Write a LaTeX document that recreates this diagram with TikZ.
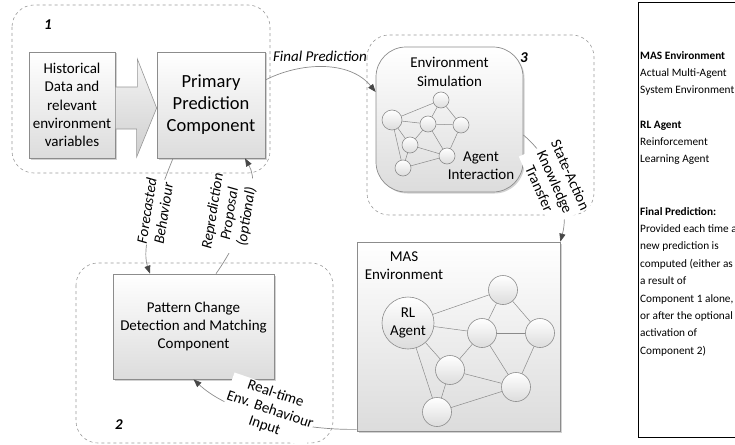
\documentclass[tikz,border=0pt]{standalone}
\usepackage{fontspec}
\setmainfont{Carlito}
\usetikzlibrary{arrows.meta, calc, shadows}
\definecolor{cLine}{HTML}{8C8C8C}
\definecolor{cTip}{HTML}{474747}
\definecolor{cFill}{HTML}{DCDCDC}
\definecolor{cFrame}{HTML}{9A9A9A}
\definecolor{cTie}{HTML}{8A8A8A}
\tikzset{
    x=1pt, y=-1pt, font=\fontsize{15}{18.3}\selectfont,
    grp/.style={draw=cFrame, dashed, line width=0.6pt, rounded corners=22pt},
    grplbl/.style={font=\bfseries\itshape\fontsize{15}{18}\selectfont, inner sep=0pt},
    blk/.style={draw=cLine, line width=0.7pt, top color=white, bottom color=cFill,
                drop shadow={shadow xshift=1.5pt, shadow yshift=-1.5pt,
                             fill=black!35, opacity=.5},
                align=center, inner sep=0pt},
    agent/.style={circle, draw=cLine, line width=0.6pt, top color=white,
                  bottom color=cFill, inner sep=0pt},
    tie/.style={draw=cTie, line width=0.5pt},
    lnk/.style={draw=cLine, line width=0.7pt,
                -{Triangle[length=8pt, width=6pt, color=cTip]}},
    lbl/.style={fill=white, inner sep=0.5pt, align=center,
                font=\fontsize{15}{17}\selectfont},
    leg/.style={font=\fontsize{11.3}{17.4}\selectfont, align=left,
                inner sep=0pt, anchor=base west},
}

\begin{document}
\begin{tikzpicture}
    \useasboundingbox (0,0) rectangle (735,444);
    \clip (0,0) rectangle (735,444);

    % the three components
    \draw[grp] (12,5) rectangle (270,173);
    \node[grplbl] (g1) at (48,25) {1};
    \draw[grp] (76,263) rectangle (333,443);
    \node[grplbl] (g2) at (119,425) {2};
    \draw[grp] (367,35) rectangle (594,215);
    \node[grplbl] (g3) at (524,58) {3};

    \node[blk, minimum width=86pt, minimum height=106pt] (hist) at (72,105)
        {Historical\\Data and\\relevant\\environment\\variables};
    \node[blk, minimum width=108pt, minimum height=106pt,
          font=\fontsize{18.5}{22}\selectfont] (prim) at (211,105)
        {Primary\\Prediction\\Component};
    \node[blk, minimum width=161pt, minimum height=105pt] (patt) at (193.5,326.5)
        {Pattern Change\\Detection and Matching\\Component};

    \draw[draw=cLine!90, line width=0.6pt, top color=gray!8, bottom color=gray!38]
        ($(hist.east)+(0,-18)$) -- ++(22,0) -- ++(0,-28) -- ($(prim.west)+(0,3)$)
        -- ++(-20,49) -- ++(0,-28) -- ($(hist.east)+(0,24)$) -- cycle;

    % simulated environment
    \node[blk, rounded corners=30pt, minimum width=147pt, minimum height=145pt]
        (envsim) at (449.5,119.5) {};
    \node[align=center] (simlbl) at (449.5,72) {Environment\\Simulation};
    \node[align=center] (actlbl) at (481,166) {Agent\\Interaction};
    \node[agent, minimum size=16pt] (s1) at (441,100) {};
    \node[agent, minimum size=20pt] (s2) at (392,120) {};
    \node[agent, minimum size=16pt] (s3) at (428,124) {};
    \node[agent, minimum size=16pt] (s4) at (461,125) {};
    \node[agent, minimum size=16pt] (s5) at (410,145) {};
    \node[agent, minimum size=16pt] (s6) at (447,156) {};
    \node[agent, minimum size=16pt] (s7) at (403,168) {};
    \foreach \a/\b in {s2/s1, s1/s3, s1/s4, s2/s3, s3/s4, s3/s5, s3/s6,
                       s2/s5, s2/s7, s5/s6, s5/s7, s7/s6, s4/s6}
        \draw[tie] (\a) -- (\b);

    % real environment
    \node[blk, minimum width=203pt, minimum height=189pt] (mas) at (458.5,336.5) {};
    \node[align=center] (maslbl) at (404,266) {MAS\\Environment};
    \node[agent, minimum size=52pt, align=center] (rl) at (408,323) {RL\\Agent};
    \node[agent, minimum size=29pt] (ma) at (503,290) {};
    \node[agent, minimum size=29pt] (mb) at (482,333) {};
    \node[agent, minimum size=29pt] (mc) at (540,333) {};
    \node[agent, minimum size=29pt] (md) at (450,370) {};
    \node[agent, minimum size=29pt] (me) at (516,387) {};
    \node[agent, minimum size=29pt] (mf) at (437,412) {};
    \foreach \a/\b in {rl/ma, ma/mb, ma/mc, rl/mb, mb/mc, mb/md, mb/me,
                       rl/md, rl/mf, md/me, md/mf, mf/me, mc/me}
        \draw[tie] (\a) -- (\b);

    % connectors between the components
    \draw[lnk] ($(prim.east)+(0,-25)$) .. controls +(35,-18) and +(-26,-32) ..
        ($(envsim.west)+(0,-27.5)$);
    \node[font=\itshape\fontsize{15}{17}\selectfont] (lfinal) at (320,56)
        {Final Prediction};

    \draw[lnk] ($(prim.south)+(-38,0)$) .. controls +(-13,32) and +(-10,-29) ..
        ($(patt.north)+(-43.5,0)$);
    \node[lbl, rotate=81, font=\itshape\fontsize{15}{17}\selectfont] (lfore)
        at (155,212) {Forecasted\\Behaviour};

    \draw[lnk] ($(patt.north)+(22.5,0)$) .. controls +(24,-34) and +(17,30) ..
        ($(prim.south)+(34,0)$);
    \node[lbl, rotate=81, font=\itshape\fontsize{15}{17}\selectfont] (lrepr)
        at (230,214) {Reprediction\\Proposal\\(optional)};

    \draw[lnk] ($(envsim.east)+(0,15.5)$) .. controls +(30,25) and +(10,-37) ..
        (mas.north east);
    \node[lbl, rotate=-66] (lsak) at (555,182) {State-Action\\Knowledge\\Transfer};

    \draw[lnk] ($(mas.south west)+(0,-2)$) .. controls +(-67,1) and +(32,30) ..
        (patt.south);
    \node[lbl, rotate=-19] (lreal) at (270,410) {Real-time\\Env. Behaviour\\Input};

    % legend (base = baseline of the last line)
    \draw[line width=0.8pt] (638,2) rectangle (760,437);
    \node[leg] (legmas) at (640,93.8)
        {\textbf{MAS Environment}\\Actual Multi-Agent\\System Environment};
    \node[leg] (legrl) at (640,162.8)
        {\textbf{RL Agent}\\Reinforcement\\Learning Agent};
    \node[leg] (legfin) at (640,354.2)
        {\textbf{Final Prediction:}\\Provided each time a\\new prediction is\\computed (either as\\a result of\\Component 1 alone,\\or after the optional\\activation of\\Component 2)};
\end{tikzpicture}
\end{document}
